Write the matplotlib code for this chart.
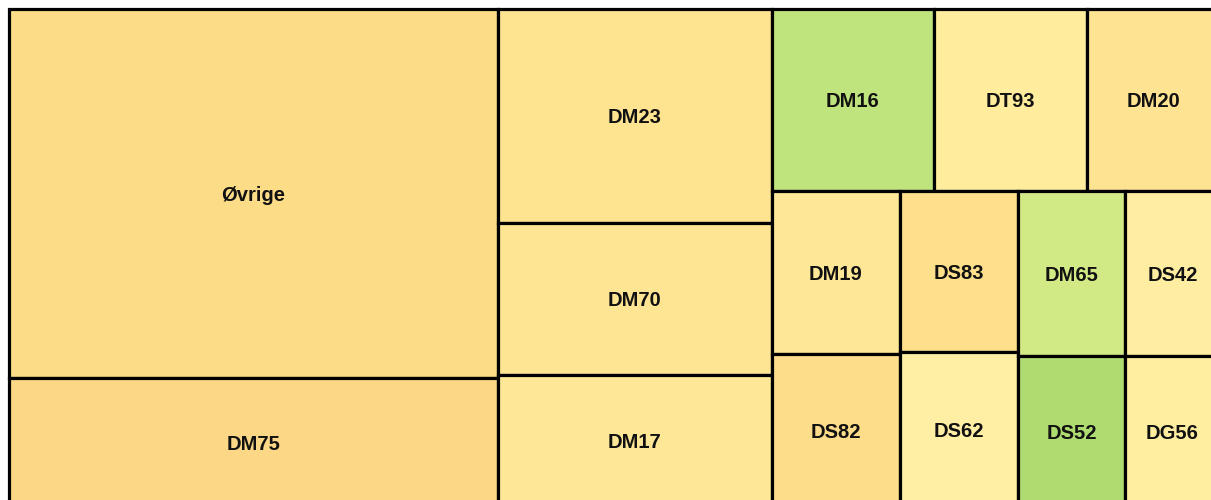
import matplotlib
matplotlib.use("Agg")
import matplotlib.pyplot as plt
from matplotlib.patches import Rectangle

# areas of the treemap tiles
labels = ["Øvrige", "DM75", "DM23", "DM70", "DM17", "DM16", "DT93", "DM20",
          "DM19", "DS82", "DS83", "DS62", "DM65", "DS52", "DS42", "DG56"]
values = [1804, 631, 586, 416, 362, 295, 278, 242,
          209, 196, 190, 183, 177, 162, 157, 143]
colors = ["#fddc88", "#fcd785", "#fee391", "#fee593", "#fee898", "#c0e47d",
          "#ffec9c", "#fee393", "#fee797", "#fddd8a", "#fedf8c", "#ffefa5",
          "#d2ea86", "#aedc71", "#ffeea2", "#ffeda0"]
# how many tiles go in each strip, and whether the strip is a column or a row
strip_sizes = [2, 3, 3, 2, 2, 2, 2]
strip_kind = ["col", "col", "row", "col", "col", "col", "col"]

W, H = 1211, 498   # size of the treemap area
OFF_X, OFF_Y = 9, 9  # the chart is shifted a bit in the frame


def layout(vals, sizes, kinds, x0, y0, x1, y1):
    rects = []
    remaining = float(sum(vals))
    i = 0
    for n, kind in zip(sizes, kinds):
        row = vals[i:i + n]
        s = float(sum(row))
        dx, dy = x1 - x0, y1 - y0
        if kind == "row":
            # row across the top
            h = dy * s / remaining
            x = x0
            for v in row:
                w = dx * v / s
                rects.append((x, y0, w, h))
                x += w
            y0 += h
        else:
            # column on the left
            w = dx * s / remaining
            y = y0
            for v in row:
                h = dy * v / s
                rects.append((x0, y, w, h))
                y += h
            x0 += w
        remaining -= s
        i += n
    return rects


rects = layout(values, strip_sizes, strip_kind, 0, 0, W, H)

fig = plt.figure(figsize=(12.11, 5.0), dpi=100)
ax = fig.add_axes([0, 0, 1, 1])
ax.set_xlim(-OFF_X, 1211 - OFF_X)
ax.set_ylim(500 - OFF_Y, -OFF_Y)
ax.axis("off")

for (x, y, w, h), lab, c in zip(rects, labels, colors):
    ax.add_patch(Rectangle((x, y), w, h, facecolor=c, edgecolor="black",
                           linewidth=2.3, joinstyle="miter"))
    ax.text(x + w / 2, y + h / 2 + 2, lab, ha="center", va="center",
            fontsize=14.5, fontweight="bold", family="Liberation Sans",
            color="#111111")

fig.savefig("out.png", dpi=100)
